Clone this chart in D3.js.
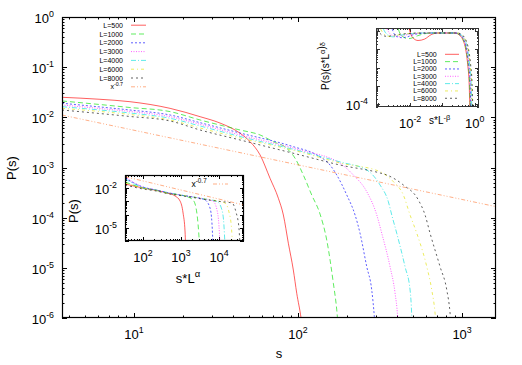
<!DOCTYPE html>
<html>
<head>
<meta charset="utf-8">
<script src="https://cdn.jsdelivr.net/npm/d3@7"></script>
<style>
  body { margin: 0; background: #fff; }
  text { font-family: "Liberation Sans", Arial, Helvetica, sans-serif; fill: #000; }
</style>
</head>
<body>
<div id="chart"></div>
<script>
// Data
//////////////////////////////////////////////////////////////////////
const labels = ["L=500", "L=1000", "L=2000", "L=3000", "L=4000", "L=6000", "L=8000"];
const powerLabel = "-0.7";

// main panel : P(s) vs s
const ps500 = [[3.64,0.0251],[6.2,0.0229],[9.45,0.0205],[16.6,0.0151],[25.3,0.0103],[33.4,0.00771],[44.3,0.00482],[51.0,0.00327],[58.7,0.00178],[67.5,6.09e-4],[75.9,2.43e-4],[81.4,1.13e-4],[87.3,3.09e-5],[93.6,9.06e-6],[98.2,3.11e-6],[104.3,1e-6],[105.8,7e-7]];
const ps1000 = [[3.64,0.0212],[6.2,0.018],[9.45,0.0157],[16.6,0.013],[25.3,0.00885],[44.3,0.00559],[58.7,0.00445],[70.7,0.00327],[85.3,0.00242],[95.9,0.00153],[107.7,7.09e-4],[121.2,2.83e-4],[136.2,1.18e-4],[149.6,3.59e-5],[164.2,4.92e-6],[172.2,1.45e-6],[175.5,7e-7]];
const ps2000 = [[3.64,0.0191],[6.2,0.0161],[9.45,0.014],[16.6,0.01113],[25.3,0.00782],[44.3,0.00487],[93.6,0.0026],[130,0.00178],[156.7,0.00112],[172.2,7.09e-4],[198.2,2.83e-4],[222.7,1.13e-4],[238.8,4.88e-5],[262.4,1.05e-5],[281.4,3.62e-6],[291.9,1.06e-6],[294.7,7e-7]];
const ps3000 = [[3.64,0.0176],[6.2,0.015],[9.45,0.0131],[16.6,0.0103],[25.3,0.00726],[44.3,0.00445],[102.8,0.00223],[180.4,0.00121],[217.4,7.09e-4],[262.4,3.29e-4],[302,1.13e-4],[323.9,4.88e-5],[363.9,1.05e-5],[390.5,3.11e-6],[404.4,1.06e-6],[407.3,7e-7]];
const ps4000 = [[3.64,0.0163],[6.2,0.014],[9.45,0.0122],[16.6,0.00957],[25.3,0.00672],[44.3,0.00415],[102.8,0.00213],[180.4,0.00129],[262.4,8.92e-4],[316.2,4.48e-4],[355.3,2.08e-4],[372.7,1.13e-4],[399.8,4.88e-5],[449.2,1.05e-5],[481.9,3.62e-6],[493.5,1.06e-6],[495.6,7e-7]];
const ps6000 = [[3.64,0.0151],[6.2,0.0131],[9.45,0.0114],[16.6,0.00885],[25.3,0.00613],[44.3,0.00388],[102.8,0.00204],[180.4,0.00123],[316.2,8.25e-4],[381.2,5.22e-4],[438.6,2.83e-4],[481.9,1.13e-4],[529.5,4.88e-5],[609.5,1.05e-5],[653.6,3.62e-6],[684.6,1.24e-6],[694.4,7e-7]];
const ps8000 = [[3.64,0.014],[6.2,0.0119],[9.45,0.0104],[16.6,0.00845],[25.3,0.00559],[44.3,0.00354],[102.8,0.00178],[180.4,0.00112],[316.2,7.77e-4],[347.4,7.09e-4],[438.6,4.48e-4],[541.5,2.25e-4],[594.9,1.13e-4],[638.1,4.88e-5],[734.5,1.05e-5],[806.9,3.62e-6],[845.2,1.24e-6],[856.9,7e-7]];
const psPower = [[3.64,0.0111],[1610,1.66e-4]];

// top-right inset : P(s)(s*L^a)^d vs s*L^-b
const sc500 = [[0.0094,1.37],[0.0102,0.798],[0.0124,0.42],[0.0176,0.31],[0.0281,0.37],[0.0448,0.644],[0.071,0.798],[0.245,0.798],[0.324,0.644],[0.429,0.343],[0.528,0.0968],[0.608,0.0146],[0.676,0.00117],[0.71,4.98e-5]];
const sc1000 = [[0.00428,1.37],[0.0049,0.73],[0.00605,0.5],[0.0087,0.388],[0.0122,0.441],[0.0173,0.568],[0.0282,0.73],[0.046,0.798],[0.254,0.798],[0.335,0.644],[0.444,0.343],[0.546,0.0968],[0.629,0.0146],[0.7,0.00117],[0.735,4.98e-5]];
const sc2000 = [[0.0028,1.3],[0.0032,0.73],[0.004,0.5],[0.0055,0.441],[0.0085,0.5],[0.0125,0.644],[0.02,0.74],[0.035,0.798],[0.263,0.798],[0.347,0.644],[0.46,0.343],[0.566,0.0968],[0.652,0.0146],[0.725,0.00117],[0.761,4.98e-5]];
const sc3000 = [[0.00194,1.3],[0.0022,0.87],[0.0028,0.58],[0.004,0.5],[0.006,0.58],[0.009,0.67],[0.015,0.75],[0.03,0.798],[0.272,0.798],[0.36,0.644],[0.476,0.343],[0.586,0.0968],[0.675,0.0146],[0.75,0.00117],[0.788,4.98e-5]];
const sc4000 = [[0.0015,1.3],[0.0017,0.87],[0.0022,0.58],[0.003,0.49],[0.0045,0.58],[0.007,0.67],[0.012,0.75],[0.025,0.798],[0.282,0.798],[0.373,0.644],[0.493,0.343],[0.607,0.0968],[0.699,0.0146],[0.777,0.00117],[0.817,4.98e-5]];
const sc6000 = [[0.00122,1.3],[0.0014,0.87],[0.0018,0.58],[0.0025,0.51],[0.0038,0.59],[0.006,0.69],[0.01,0.75],[0.02,0.798],[0.292,0.798],[0.386,0.644],[0.511,0.343],[0.628,0.0968],[0.724,0.0146],[0.804,0.00117],[0.845,4.98e-5]];
const sc8000 = [[0.00095,1.3],[0.0011,0.87],[0.0014,0.59],[0.002,0.52],[0.003,0.6],[0.005,0.69],[0.009,0.75],[0.018,0.798],[0.302,0.798],[0.399,0.644],[0.529,0.343],[0.65,0.0968],[0.749,0.0146],[0.833,0.00117],[0.875,4.98e-5]];

// bottom-left inset : P(s) vs s*L^a
const col500 = [[34.4,0.0208],[100,0.01036],[223,0.0069],[432,0.00433],[701,0.00257],[947,0.00107],[1135,1.32e-4],[1280,4.81e-6],[1318,5e-7]];
const col1000 = [[34.4,0.0295],[100,0.01036],[223,0.0069],[432,0.00433],[947,0.00305],[1534,0.00215],[2073,0.00128],[2485,3.16e-4],[2803,1.94e-5],[3069,5e-7]];
const col2000 = [[34.4,0.0593],[100,0.0123],[223,0.00731],[432,0.00472],[947,0.00305],[2073,0.00215],[4276,0.00128],[5778,3.16e-4],[6517,1.94e-5],[6918,5e-7]];
const col3000 = [[34.4,0.0705],[100,0.0123],[223,0.00731],[432,0.00472],[947,0.00305],[2073,0.00215],[4276,0.00152],[6918,0.00107],[8810,2.23e-4],[9934,1.37e-5],[10560,5e-7]];
const col4000 = [[34.4,0.0498],[100,0.0113],[223,0.00731],[432,0.00472],[947,0.00305],[2073,0.00215],[4276,0.00152],[8870,9.82e-4],[11910,2.23e-4],[13430,1.37e-5],[14260,5e-7]];
const col6000 = [[34.4,0.0248],[100,0.01036],[223,0.0069],[432,0.00433],[947,0.00305],[2073,0.00215],[4276,0.00152],[10560,9.82e-4],[14260,7.57e-4],[18160,1.57e-4],[21130,9.66e-6],[22450,5e-7]];
const col8000 = [[34.4,0.0175],[100,0.0087],[223,0.00614],[432,0.00397],[947,0.0028],[2073,0.00197],[4276,0.00139],[10560,9.82e-4],[21780,7.57e-4],[27690,1.57e-4],[33190,9.66e-6],[35240,5e-7]];
const colPower = [[34.4,0.0743],[45000,5.3e-4]];

// Styles (gnuplot like)
//////////////////////////////////////////////////////////////////////
const colors = ["#ff0000", "#00e000", "#0000ff", "#ff00ff", "#00dddd", "#e0e000", "#000000"];
const dashes = [null, "5,3", "2,2", "1,1.5", "5,2,1,2", "3,3,1,3", "2,3"];
const powerColor = "#ff8040";
const powerDash = "4,2,1,2,1,2";
const lineWidth = 0.9;
const lineOpacity = 0.7;

const width = 522, height = 365;
const svg = d3.select("#chart").append("svg")
  .attr("width", width)
  .attr("height", height);

// log ticks : majors on decades, minors 2..9
function logTicks(dom) {
  const lo = Math.floor(Math.log10(dom[0])), hi = Math.ceil(Math.log10(dom[1]));
  const major = [], minor = [];
  for (let e = lo; e <= hi; e++) {
    for (let m = 1; m < 10; m++) {
      const v = m * Math.pow(10, e);
      if (v < dom[0] * 0.9999 || v > dom[1] * 1.0001) continue;
      (m === 1 ? major : minor).push(v);
    }
  }
  return { major, minor };
}

// "10" with exponent as superscript
function powLabel(sel, v, size) {
  const e = Math.round(Math.log10(v));
  sel.append("tspan").text("10");
  sel.append("tspan")
    .attr("dy", -size * 0.45)
    .attr("font-size", size * 0.68)
    .text(e);
}

let clipId = 0;
function panel(box, xDom, yDom, opt) {
  const x = d3.scaleLog(xDom, [box.x0, box.x1]);
  const y = d3.scaleLog(yDom, [box.y1, box.y0]);
  const g = svg.append("g");
  const fs = opt.fontSize || 13;

  // white background (insets sit on top of main plot)
  g.append("rect")
    .attr("x", box.x0).attr("y", box.y0)
    .attr("width", box.x1 - box.x0).attr("height", box.y1 - box.y0)
    .attr("fill", "#fff");

  const id = "clip" + (clipId++);
  g.append("clipPath").attr("id", id)
    .append("rect")
    .attr("x", box.x0).attr("y", box.y0)
    .attr("width", box.x1 - box.x0).attr("height", box.y1 - box.y0);

  // ticks on all four sides, pointing inward
  const tx = logTicks(xDom), ty = logTicks(yDom);
  const tg = g.append("g").attr("stroke", opt.frame || "#000").attr("stroke-width", 1);
  const big = opt.major || 5, small = opt.minor || 2.5;
  [[tx.major, big], [tx.minor, small]].forEach(([vals, len]) => {
    vals.forEach(v => {
      const px = Math.round(x(v)) + 0.5;
      tg.append("line").attr("x1", px).attr("x2", px).attr("y1", box.y1).attr("y2", box.y1 - len);
      tg.append("line").attr("x1", px).attr("x2", px).attr("y1", box.y0).attr("y2", box.y0 + len);
    });
  });
  [[ty.major, big], [ty.minor, small]].forEach(([vals, len]) => {
    vals.forEach(v => {
      const py = Math.round(y(v)) + 0.5;
      tg.append("line").attr("y1", py).attr("y2", py).attr("x1", box.x0).attr("x2", box.x0 + len);
      tg.append("line").attr("y1", py).attr("y2", py).attr("x1", box.x1).attr("x2", box.x1 - len);
    });
  });

  // tick labels
  (opt.xLabels || tx.major).forEach(v => {
    g.append("text")
      .attr("x", x(v)).attr("y", box.y1 + (opt.xLabelGap || 21))
      .attr("text-anchor", "middle")
      .attr("font-size", fs)
      .call(t => powLabel(t, v, fs));
  });
  (opt.yLabels || ty.major).forEach(v => {
    g.append("text")
      .attr("x", box.x0 - (opt.yLabelGap || 8)).attr("y", y(v) + 6)
      .attr("text-anchor", "end")
      .attr("font-size", fs)
      .call(t => powLabel(t, v, fs));
  });

  const curves = g.append("g").attr("clip-path", `url(#${id})`).attr("fill", "none");
  const line = d3.line().x(d => x(d[0])).y(d => y(d[1])).curve(d3.curveMonotoneX);

  // frame on top
  g.append("rect")
    .attr("x", box.x0 + 0.5).attr("y", box.y0 + 0.5)
    .attr("width", box.x1 - box.x0 - 1).attr("height", box.y1 - box.y0 - 1)
    .attr("fill", "none")
    .attr("stroke", opt.frame || "#000")
    .attr("stroke-width", opt.frameWidth || 1.2);

  return { x, y, g, curves, line };
}

function drawSeries(p, series) {
  series.forEach((s, i) => {
    p.curves.append("path")
      .attr("d", p.line(s))
      .attr("stroke", colors[i])
      .attr("stroke-opacity", lineOpacity)
      .attr("stroke-width", lineWidth)
      .attr("stroke-dasharray", dashes[i]);
  });
}

function drawPower(p, pts) {
  p.curves.append("path")
    .attr("d", p.line(pts))
    .attr("stroke", powerColor)
    .attr("stroke-opacity", lineOpacity)
    .attr("stroke-width", lineWidth)
    .attr("stroke-dasharray", powerDash);
}

// legend rows : right aligned text + short line sample
function legend(xText, x0, x1, yStart, step, fs, items) {
  const lg = svg.append("g");
  items.forEach((it, i) => {
    const yy = yStart + i * step;
    const t = lg.append("text")
      .attr("x", xText).attr("y", yy + fs * 0.36)
      .attr("text-anchor", "end")
      .attr("font-size", fs);
    if (it.power) {
      t.append("tspan").text("x");
      t.append("tspan").attr("dy", -fs * 0.5).attr("font-size", fs * 0.75).text(it.label);
    } else {
      t.text(it.label);
    }
    lg.append("line")
      .attr("x1", x0).attr("x2", x1).attr("y1", yy).attr("y2", yy)
      .attr("stroke", it.color)
      .attr("stroke-opacity", lineOpacity)
      .attr("stroke-width", lineWidth)
      .attr("stroke-dasharray", it.dash);
  });
}

const legendItems = labels.map((l, i) => ({ label: l, color: colors[i], dash: dashes[i] }));
const powerItem = { label: powerLabel, color: powerColor, dash: powerDash, power: true };

// Main panel
//////////////////////////////////////////////////////////////////////
const main = panel({ x0: 62, x1: 496, y0: 17, y1: 318 }, [3.64, 1610], [1e-6, 1], {});
drawSeries(main, [ps500, ps1000, ps2000, ps3000, ps4000, ps6000, ps8000]);
drawPower(main, psPower);
legend(123, 131, 146, 25.2, 8.8, 7, legendItems.concat([powerItem]));

svg.append("text")
  .attr("transform", "translate(16,168) rotate(-90)")
  .attr("text-anchor", "middle")
  .attr("font-size", 13)
  .text("P(s)");
svg.append("text")
  .attr("x", 279).attr("y", 358)
  .attr("text-anchor", "middle")
  .attr("font-size", 13)
  .text("s");

// Top-right inset
//////////////////////////////////////////////////////////////////////
const insetA = panel({ x0: 376, x1: 479, y0: 28, y1: 107 }, [8.8e-4, 1.36], [7e-5, 1.5],
  { xLabels: [1e-2, 1], yLabels: [1e-4], major: 4, minor: 2, frame: "#333", frameWidth: 1 });
drawSeries(insetA, [sc500, sc1000, sc2000, sc3000, sc4000, sc6000, sc8000]);
legend(436.7, 445, 459, 54.3, 7.33, 7, legendItems);

svg.append("text")
  .attr("x", 429).attr("y", 124)
  .attr("font-size", 10)
  .call(t => {
    t.append("tspan").text("s*L");
    t.append("tspan").attr("dy", -4.5).attr("font-size", 7.5).text("-\u03b2");
  });
const ylabA = svg.append("text")
  .attr("transform", "translate(329,66) rotate(-90)")
  .attr("text-anchor", "middle")
  .attr("font-size", 10);
ylabA.append("tspan").text("P(s)(s*L");
ylabA.append("tspan").attr("dy", -4.5).attr("font-size", 7.5).text("\u03b1");
ylabA.append("tspan").text(")");
ylabA.append("tspan").attr("font-size", 7.5).text("\u03b4");

// Bottom-left inset
//////////////////////////////////////////////////////////////////////
const insetB = panel({ x0: 125, x1: 244, y0: 175, y1: 241 }, [34, 45000], [1e-6, 0.1],
  { xLabels: [1e2, 1e3, 1e4], yLabels: [1e-2, 1e-5], major: 4, minor: 2, frameWidth: 1.2 });
drawSeries(insetB, [col500, col1000, col2000, col3000, col4000, col6000, col8000]);
drawPower(insetB, colPower);
legend(206.7, 213, 228, 184, 8, 8.5, [powerItem]);

svg.append("text")
  .attr("transform", "translate(78,211) rotate(-90)")
  .attr("text-anchor", "middle")
  .attr("font-size", 13)
  .text("P(s)");
svg.append("text")
  .attr("x", 188).attr("y", 283)
  .attr("text-anchor", "middle")
  .attr("font-size", 13)
  .call(t => {
    t.append("tspan").text("s*L");
    t.append("tspan").attr("dy", -6).attr("font-size", 9.5).text("\u03b1");
  });
</script>
</body>
</html>
